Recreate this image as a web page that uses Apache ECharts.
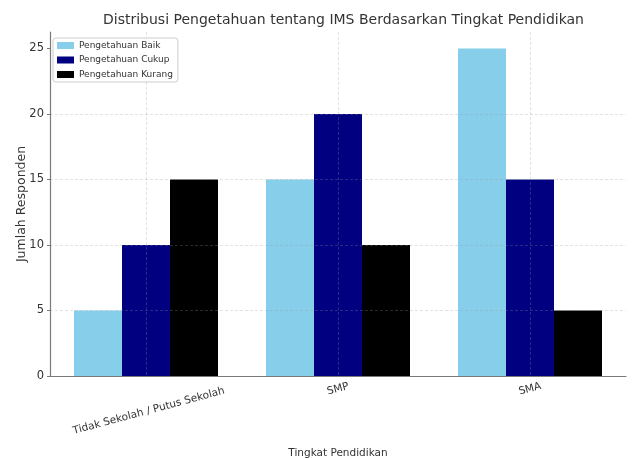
<!DOCTYPE html>
<html>
<head>
<meta charset="utf-8">
<script src="https://cdn.jsdelivr.net/npm/echarts@6/dist/echarts.min.js"></script>
<style>
  html, body { margin: 0; padding: 0; background: #fff; }
  #chart { width: 632px; height: 459px; }
</style>
</head>
<body>
<div id="chart"></div>
<script>
// Distribusi pengetahuan IMS per tingkat pendidikan
var categories = ['Tidak Sekolah / Putus Sekolah', 'SMP', 'SMA'];
var baik = [5, 15, 25];
var cukup = [10, 20, 15];
var kurang = [15, 10, 5];
var yTicks = [0, 5, 10, 15, 20, 25];

var font = "'DejaVu Sans', sans-serif";
var axisGray = '#7a7a7a';
var gridGray = 'rgba(150,150,150,0.35)';

var chart = echarts.init(document.getElementById('chart'), null, { renderer: 'canvas' });

chart.setOption({
  animation: false,
  textStyle: { fontFamily: font },
  title: {
    text: 'Distribusi Pengetahuan tentang IMS Berdasarkan Tingkat Pendidikan',
    left: 98,
    top: 8,
    textStyle: { fontFamily: font, fontSize: 14, fontWeight: 'normal', color: '#333' }
  },
  legend: {
    orient: 'vertical',
    left: 53,
    top: 38,
    padding: [3, 5, 3, 4],
    itemWidth: 17,
    itemHeight: 7,
    itemGap: 5.5,
    borderColor: '#cccccc',
    borderWidth: 1,
    borderRadius: 3,
    backgroundColor: 'rgba(255,255,255,0.9)',
    icon: 'rect',
    textStyle: { fontFamily: font, fontSize: 9, color: '#333' },
    data: ['Pengetahuan Baik', 'Pengetahuan Cukup', 'Pengetahuan Kurang']
  },
  grid: {
    left: 50,
    right: 6,
    top: 32,
    bottom: 83,
    containLabel: false,
    outerBoundsMode: 'none'
  },
  xAxis: {
    type: 'category',
    data: categories,
    z: 3,
    name: 'Tingkat Pendidikan',
    nameLocation: 'middle',
    nameGap: 72,
    nameMoveOverlap: false,
    nameTextStyle: { fontFamily: font, fontSize: 10.5, color: '#333' },
    axisLine: { lineStyle: { color: axisGray, width: 1.2 } },
    axisTick: { show: false },
    axisLabel: {
      interval: 0,
      rotate: 15,
      align: 'center',
      verticalAlign: 'middle',
      margin: 13,
      fontFamily: font,
      fontSize: 10.5,
      color: '#333',
      // label panjang digeser ke bawah seperti matplotlib
      formatter: function (v, i) {
        return i === 0 ? '{t|' + v + '}' : v;
      },
      rich: {
        t: {
          fontFamily: font,
          fontSize: 10.5,
          color: '#333',
          padding: [44, 6, 0, 0]
        }
      }
    },
    splitLine: {
      show: true,
      alignWithLabel: true,
      lineStyle: { color: gridGray, type: [3, 2], width: 0.8 }
    }
  },
  yAxis: {
    type: 'value',
    min: 0,
    max: 26.25,
    interval: 5,
    z: 3,
    name: 'Jumlah Responden',
    nameLocation: 'middle',
    nameGap: 22,
    nameRotate: 90,
    nameMoveOverlap: false,
    nameTextStyle: { fontFamily: font, fontSize: 12.5, color: '#333' },
    axisLine: { show: true, lineStyle: { color: axisGray, width: 1.2 } },
    axisTick: { show: true, length: 3, customValues: yTicks, lineStyle: { color: axisGray } },
    axisLabel: {
      customValues: yTicks,
      margin: 6,
      fontFamily: font,
      fontSize: 11.5,
      color: '#333'
    },
    splitLine: {
      show: true,
      showMinLine: false,
      showMaxLine: false,
      lineStyle: { color: gridGray, type: [3, 2], width: 0.8 }
    }
  },
  series: [
    {
      name: 'Pengetahuan Baik',
      type: 'bar',
      barWidth: 48,
      barGap: '0%',
      itemStyle: { color: '#87CEEB' },
      data: baik
    },
    {
      name: 'Pengetahuan Cukup',
      type: 'bar',
      barWidth: 48,
      barGap: '0%',
      itemStyle: { color: '#000080' },
      data: cukup
    },
    {
      name: 'Pengetahuan Kurang',
      type: 'bar',
      barWidth: 48,
      barGap: '0%',
      itemStyle: { color: '#000000' },
      data: kurang
    }
  ]
});
</script>
</body>
</html>
